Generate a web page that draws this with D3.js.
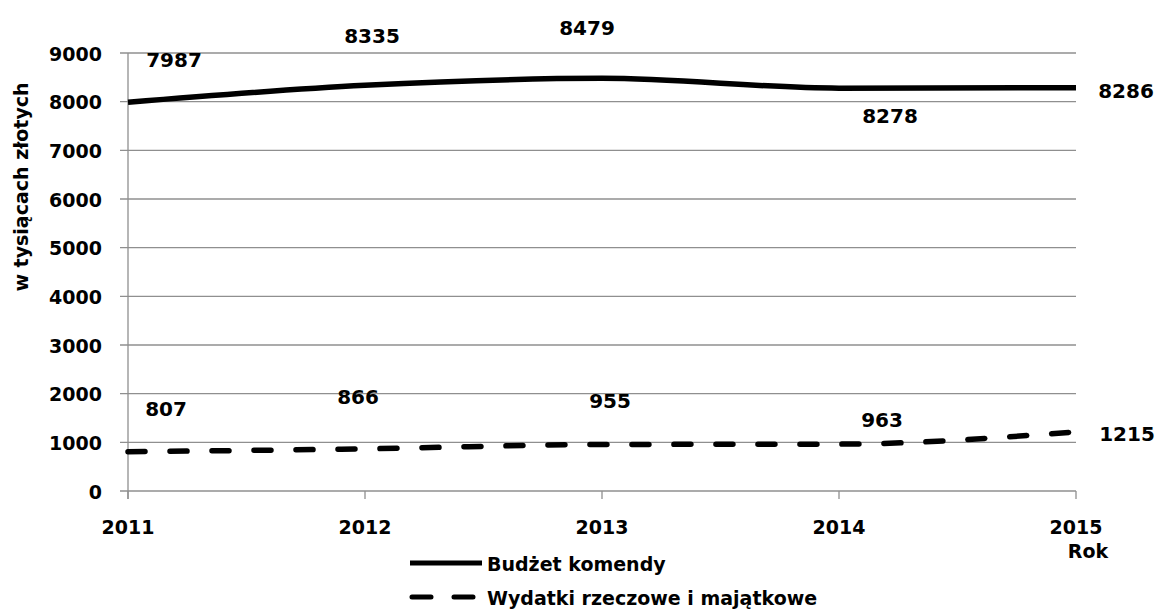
<!DOCTYPE html>
<html><head><meta charset="utf-8">
<script src="https://cdn.jsdelivr.net/npm/d3@7"></script>
<style>body{margin:0;background:#fff}text{font-family:"DejaVu Sans",sans-serif;font-weight:bold;fill:#000}</style>
</head><body><svg id="c" width="1156" height="610"></svg>
<script>
const years = [2011, 2012, 2013, 2014, 2015];
const budzet = [7987, 8335, 8479, 8278, 8286];
const wydatki = [807, 866, 955, 963, 1215];
const yTicks = [0, 1000, 2000, 3000, 4000, 5000, 6000, 7000, 8000, 9000];
const seriesNames = ["Budżet komendy", "Wydatki rzeczowe i majątkowe"];
const yTitle = "w tysiącach złotych";
const xTitle = "Rok";

const svg = d3.select("#c");
const x = d3.scalePoint().domain(years).range([128, 1076]);
const y = d3.scaleLinear().domain([0, 9000]).range([491, 53]);
const grid = "#8f8f8f";

svg.append("g").selectAll("line").data(yTicks).join("line")
  .attr("x1", 120).attr("x2", 1076).attr("y1", d => y(d)).attr("y2", d => y(d))
  .attr("stroke", grid).attr("stroke-width", 1.3);
svg.append("line").attr("x1", 128).attr("x2", 128).attr("y1", y(9000)).attr("y2", y(0) + 8)
  .attr("stroke", grid).attr("stroke-width", 1.3);
svg.append("g").selectAll("line").data(years).join("line")
  .attr("x1", d => x(d)).attr("x2", d => x(d)).attr("y1", y(0)).attr("y2", y(0) + 8)
  .attr("stroke", grid).attr("stroke-width", 1.3);

svg.append("g").selectAll("text").data(yTicks).join("text")
  .attr("x", 102).attr("y", d => y(d) + 7.5).attr("text-anchor", "end")
  .attr("font-size", 19).text(d => d);
svg.append("g").selectAll("text").data(years).join("text")
  .attr("x", d => x(d)).attr("y", 534).attr("text-anchor", "middle")
  .attr("font-size", 19).text(d => d);
svg.append("text").attr("x", 1088).attr("y", 558).attr("text-anchor", "middle")
  .attr("font-size", 19).text(xTitle);
svg.append("text").attr("transform", "translate(28,187) rotate(-90)")
  .attr("text-anchor", "middle").attr("font-size", 19).text(yTitle);

const line = d3.line().x((d, i) => x(years[i])).y(d => y(d)).curve(d3.curveMonotoneX);
svg.append("path").datum(budzet).attr("d", line).attr("fill", "none")
  .attr("stroke", "#000").attr("stroke-width", 5.5);
svg.append("path").datum(wydatki).attr("d", line).attr("fill", "none")
  .attr("stroke", "#000").attr("stroke-width", 5.5).attr("stroke-linecap", "round")
  .attr("stroke-dasharray", "17,25");

const bOff = [[46, -43], [7, -50], [-15, -51], [51, 27], [50, 3]];
const wOff = [[38, -43], [-7, -52], [8, -44], [43, -25], [51, 2]];
svg.append("g").selectAll("text").data(budzet).join("text")
  .attr("x", (d, i) => x(years[i]) + bOff[i][0]).attr("y", (d, i) => y(d) + bOff[i][1] + 7.5)
  .attr("text-anchor", "middle").attr("font-size", 20).text(d => d);
svg.append("g").selectAll("text").data(wydatki).join("text")
  .attr("x", (d, i) => x(years[i]) + wOff[i][0]).attr("y", (d, i) => y(d) + wOff[i][1] + 7.5)
  .attr("text-anchor", "middle").attr("font-size", 20).text(d => d);

const lg = svg.append("g");
lg.append("line").attr("x1", 410).attr("x2", 482).attr("y1", 563).attr("y2", 563)
  .attr("stroke", "#000").attr("stroke-width", 5);
lg.append("line").attr("x1", 412).attr("x2", 480).attr("y1", 597).attr("y2", 597)
  .attr("stroke", "#000").attr("stroke-width", 5).attr("stroke-linecap", "round")
  .attr("stroke-dasharray", "19,23");
lg.append("text").attr("x", 487).attr("y", 571).attr("font-size", 19).text(seriesNames[0]);
lg.append("text").attr("x", 487).attr("y", 605).attr("font-size", 19).text(seriesNames[1]);
</script></body></html>
